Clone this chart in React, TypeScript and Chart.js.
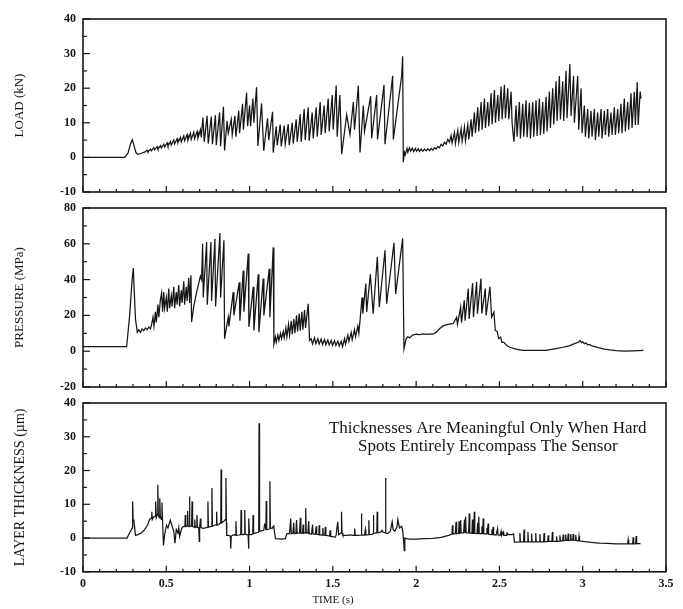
import React, { useEffect, useRef } from "react";
import { Chart, registerables } from "chart.js";

Chart.register(...registerables);

type P = [number, number];

// ---------- LOAD (kN) vs TIME (s) ----------
const loadRise: P[] = [
  [0, 0], [0.25, 0], [0.27, 1.2], [0.285, 3.8], [0.296, 5.1], [0.305, 3.6], [0.318, 1.4], [0.328, 0.9],
  [0.35, 1.2], [0.37, 1.5], [0.385, 2.1], [0.39, 1.6], [0.405, 2.4], [0.41, 1.9], [0.425, 2.8], [0.43, 2.2],
  [0.445, 3.1], [0.45, 2.4], [0.465, 3.4], [0.47, 2.7], [0.485, 3.8], [0.49, 3.0], [0.505, 4.2], [0.51, 3.3],
  [0.525, 4.6], [0.53, 3.6], [0.545, 5.0], [0.55, 3.9], [0.565, 5.4], [0.57, 4.2], [0.585, 5.8], [0.59, 4.5],
  [0.605, 6.2], [0.61, 4.8], [0.625, 6.6], [0.63, 5.0], [0.645, 7.0], [0.65, 5.2], [0.665, 7.3], [0.67, 5.4],
  [0.685, 7.5], [0.69, 5.6], [0.705, 8.0], [0.71, 5.8],
];
const loadOscA: P[] = [
  [0.72, 11.5], [0.728, 4.5], [0.745, 12], [0.752, 4], [0.77, 11.8], [0.777, 3.8], [0.795, 12.2], [0.8, 3.5],
  [0.82, 13], [0.826, 3.2], [0.843, 14.6], [0.85, 2.0], [0.865, 10.5], [0.872, 7], [0.89, 11], [0.896, 6.5],
  [0.912, 12], [0.918, 6], [0.935, 13.5], [0.94, 7], [0.958, 15.5], [0.963, 8], [0.982, 18.7], [0.988, 9],
  [1.0, 15], [1.006, 9], [1.02, 17], [1.026, 10], [1.042, 20.3], [1.05, 3.3], [1.072, 15.6], [1.085, 1.9],
  [1.108, 11.3], [1.115, 5], [1.138, 13.2], [1.142, 1.4],
];
const loadOscB: P[] = [
  [1.16, 9], [1.166, 3.5], [1.184, 9.5], [1.19, 3.2], [1.208, 9.2], [1.214, 3.8], [1.232, 9.6], [1.238, 3.5],
  [1.256, 10], [1.262, 4], [1.28, 11], [1.286, 4.5], [1.304, 12.5], [1.31, 4.5], [1.328, 14], [1.334, 5],
  [1.352, 14.5], [1.358, 4.8], [1.376, 13], [1.382, 5.5], [1.4, 14.5], [1.406, 6], [1.424, 16], [1.43, 6.5],
  [1.448, 15], [1.454, 7], [1.472, 17], [1.478, 7.5], [1.496, 18], [1.502, 8], [1.52, 20.8], [1.526, 6],
  [1.542, 18], [1.553, 0.9],
];
const loadSaw: P[] = [
  [1.583, 12.3], [1.603, 6.6], [1.623, 16], [1.63, 8], [1.653, 20.8], [1.663, 1.4], [1.683, 15], [1.69, 7.5],
  [1.727, 17.7], [1.733, 5.5], [1.763, 18], [1.768, 5.2], [1.807, 21], [1.813, 3.8], [1.859, 23.6], [1.863, 5.2],
  [1.913, 23.6], [1.919, 29.2], [1.923, -1.4],
];
const loadLow: P[] = [
  [1.93, 1.5], [1.935, 0.8], [1.945, 2.6], [1.95, 1.5], [1.96, 2.8], [1.967, 1.8], [1.977, 2.7], [1.985, 1.7],
  [1.995, 2.6], [2.003, 1.8], [2.013, 2.5], [2.02, 1.7], [2.03, 2.4], [2.04, 1.8], [2.05, 2.4], [2.06, 1.9],
  [2.07, 2.5], [2.08, 2.0], [2.09, 2.6], [2.1, 2.1], [2.11, 2.8], [2.12, 2.4], [2.13, 3.2], [2.14, 2.8],
  [2.15, 3.8], [2.16, 3.3], [2.17, 4.4], [2.18, 3.8], [2.19, 5.2], [2.2, 4.4], [2.21, 6.3], [2.216, 4.2],
  [2.23, 7.2], [2.236, 4.0], [2.25, 7.8], [2.256, 4.3], [2.27, 8.3], [2.276, 4.6], [2.29, 8.8], [2.296, 4.8],
  [2.31, 9.4], [2.316, 5.2],
];
const loadOscC: P[] = [
  [2.33, 11], [2.336, 6], [2.35, 13], [2.356, 7], [2.37, 14.5], [2.376, 7.5], [2.39, 16], [2.396, 8],
  [2.41, 17], [2.416, 8.5], [2.43, 16], [2.436, 9], [2.45, 18.5], [2.456, 9.5], [2.47, 19.5], [2.476, 10],
  [2.49, 18], [2.496, 10.5], [2.51, 20.5], [2.516, 11], [2.53, 21], [2.536, 11.3], [2.55, 20], [2.556, 11],
  [2.57, 19], [2.576, 10], [2.587, 4.5],
];
const loadOscD: P[] = [
  [2.6, 15], [2.606, 6], [2.62, 16], [2.626, 5.5], [2.64, 15.5], [2.646, 6], [2.66, 16.5], [2.666, 5.8],
  [2.68, 15.8], [2.686, 5.5], [2.7, 16], [2.706, 6], [2.72, 16.5], [2.726, 6.2], [2.74, 17], [2.746, 6.5],
  [2.76, 16], [2.766, 6.8], [2.78, 17.5], [2.786, 7.5], [2.8, 19], [2.806, 8.5], [2.82, 20], [2.826, 9.5],
  [2.84, 22], [2.846, 10.5], [2.86, 23.5], [2.866, 11], [2.88, 22], [2.886, 10.5], [2.9, 25], [2.906, 11.3],
  [2.923, 27], [2.93, 12], [2.945, 23.6], [2.95, 10], [2.97, 23.6], [2.976, 8], [2.99, 20], [2.996, 7],
];
const loadOscE: P[] = [
  [3.01, 15], [3.016, 6], [3.03, 14], [3.036, 5.5], [3.05, 13.5], [3.056, 6], [3.07, 14], [3.076, 5],
  [3.09, 13], [3.096, 6], [3.11, 14], [3.116, 5.5], [3.13, 13.5], [3.136, 6.5], [3.15, 14], [3.156, 6],
  [3.17, 13], [3.176, 6.5], [3.19, 14.5], [3.196, 6.5], [3.21, 14], [3.216, 7], [3.23, 15.5], [3.236, 7],
  [3.25, 17], [3.256, 7.5], [3.27, 16], [3.276, 8], [3.29, 18.5], [3.296, 8.5], [3.31, 19], [3.316, 9.4],
  [3.327, 21.7], [3.333, 9.4], [3.345, 19], [3.35, 17],
];

// ---------- PRESSURE (MPa) vs TIME (s) ----------
const presStart: P[] = [
  [0, 2.5], [0.262, 2.5], [0.28, 20], [0.295, 40], [0.302, 46.5], [0.307, 35], [0.315, 18], [0.326, 10.5],
  [0.335, 12], [0.345, 10.5], [0.355, 12.5], [0.365, 11.5], [0.375, 13], [0.385, 12], [0.395, 13.5], [0.405, 12.5],
  [0.412, 15], [0.42, 19], [0.426, 14], [0.435, 22], [0.44, 16], [0.45, 26], [0.455, 19], [0.465, 29],
  [0.472, 32.5], [0.478, 22],
];
const presDense: P[] = [
  [0.485, 33], [0.49, 24], [0.5, 30], [0.506, 22], [0.515, 35], [0.52, 24], [0.53, 31], [0.535, 25],
  [0.545, 36], [0.55, 24], [0.56, 33], [0.565, 26], [0.575, 37], [0.58, 25], [0.59, 34], [0.595, 27],
  [0.605, 39], [0.61, 26], [0.62, 36], [0.625, 28], [0.635, 41], [0.64, 27], [0.648, 42.4], [0.652, 16.3],
];
const presHighA: P[] = [
  [0.665, 25], [0.68, 32], [0.695, 38], [0.705, 42], [0.712, 40], [0.718, 60], [0.722, 30], [0.742, 61],
  [0.746, 26], [0.768, 61], [0.772, 28], [0.792, 62.8], [0.796, 25], [0.822, 66], [0.826, 30], [0.846, 62],
  [0.85, 7],
];
const presHighB: P[] = [
  [0.872, 19], [0.876, 14], [0.902, 33], [0.906, 20], [0.938, 38.5], [0.942, 17], [0.962, 45], [0.966, 22],
  [0.992, 54.6], [0.996, 13.5], [1.022, 36], [1.026, 11.6], [1.052, 43], [1.056, 10.6], [1.082, 40.6], [1.086, 20],
  [1.118, 46], [1.122, 19], [1.142, 58], [1.146, 4],
];
const presMid: P[] = [
  [1.155, 8], [1.16, 5], [1.17, 9], [1.176, 6], [1.186, 10], [1.192, 7], [1.202, 11], [1.208, 7.5],
  [1.218, 13], [1.224, 8], [1.234, 15], [1.24, 9], [1.25, 17], [1.256, 9.5], [1.266, 18], [1.272, 10],
  [1.282, 20], [1.288, 11], [1.298, 21], [1.304, 11.5], [1.314, 22], [1.32, 12], [1.33, 23], [1.336, 13],
  [1.352, 26.5], [1.36, 6], [1.37, 7], [1.378, 4], [1.39, 7.5], [1.398, 4.2], [1.41, 7], [1.418, 4],
  [1.43, 6.8], [1.438, 3.8], [1.45, 6.5], [1.458, 3.6], [1.47, 6.3], [1.478, 3.5], [1.49, 6], [1.498, 3.3],
  [1.51, 5.8], [1.518, 3.2], [1.53, 5.6], [1.538, 3], [1.55, 5.5], [1.558, 2.5],
];
const presRamp: P[] = [
  [1.57, 7], [1.576, 4], [1.59, 9], [1.596, 5.5], [1.61, 10.5], [1.616, 6.5], [1.63, 12], [1.636, 8],
  [1.65, 14], [1.656, 10], [1.663, 17], [1.675, 30], [1.68, 21], [1.698, 37.8], [1.703, 22], [1.725, 43],
  [1.742, 21], [1.767, 52.7], [1.779, 24.7], [1.813, 56.4], [1.823, 26.5], [1.867, 60.6], [1.877, 32], [1.919, 63],
  [1.927, 1.3],
];
const presSecond: P[] = [
  [1.94, 7], [1.95, 8], [1.96, 7.5], [1.98, 9], [2.0, 9.5], [2.02, 9.2], [2.04, 9.7], [2.06, 9.4],
  [2.08, 9.6], [2.1, 9.5], [2.12, 10.5], [2.14, 12.5], [2.16, 14], [2.175, 14.6], [2.19, 15], [2.21, 15.3],
  [2.223, 15.5], [2.243, 19], [2.248, 15], [2.267, 24.7], [2.272, 16], [2.289, 28.4], [2.294, 17], [2.313, 35],
  [2.318, 18], [2.339, 38], [2.344, 19], [2.363, 38.7], [2.368, 21], [2.389, 40.6], [2.394, 21], [2.415, 35],
  [2.42, 20], [2.443, 36], [2.453, 19], [2.467, 21.9], [2.475, 11.6], [2.487, 11], [2.495, 7], [2.507, 7.9],
  [2.515, 5], [2.527, 5], [2.543, 3.2], [2.563, 2.2],
];
const presTail: P[] = [
  [2.6, 1.2], [2.64, 0.5], [2.7, 0.4], [2.78, 0.5], [2.84, 1.5], [2.88, 2.2], [2.92, 3], [2.95, 4.2],
  [2.975, 5], [2.984, 6], [2.992, 4.8], [3.0, 5.2], [3.01, 4.2], [3.02, 4.6], [3.03, 3.6], [3.04, 3.8],
  [3.06, 2.8], [3.08, 2.4], [3.1, 1.8], [3.13, 1.2], [3.163, 0.7], [3.2, 0.3], [3.25, 0.1], [3.3, 0.2],
  [3.364, 0.4],
];

// ---------- LAYER THICKNESS (µm) vs TIME (s) ----------
const thickA: P[] = [
  [0, 0], [0.264, 0], [0.285, 2.0], [0.296, 3], [0.298, 10.8], [0.301, 5.3], [0.305, 5.5], [0.315, 0.8],
  [0.33, 1], [0.35, 1.5], [0.37, 2.5], [0.389, 4], [0.4, 5.5], [0.411, 6], [0.413, 7.8], [0.416, 5.5],
  [0.425, 6.3], [0.434, 6.5], [0.436, 10.8], [0.44, 6], [0.447, 7], [0.449, 15.8], [0.452, 7], [0.458, 6],
  [0.461, 11.8], [0.464, 6.5], [0.47, 5.5], [0.474, 10.5], [0.477, 6], [0.483, -2.2], [0.49, 1], [0.501, 3.8],
  [0.51, 3], [0.524, 5.3], [0.535, 3.5], [0.545, 2], [0.552, -1.5], [0.56, 2.5], [0.57, 1.5], [0.575, 3],
  [0.58, 0.5], [0.592, 2.8],
];
const thickB: P[] = [
  [0.6, 3.3], [0.612, 3.5], [0.614, 6.8], [0.617, 3.4], [0.625, 3.6], [0.628, 8], [0.631, 3.5], [0.637, 3.4],
  [0.639, 12.3], [0.642, 3.5], [0.652, 3.6], [0.655, 10.8], [0.658, 3.4], [0.668, 3.2], [0.671, 5.5], [0.674, 3.1],
  [0.682, 3.3], [0.684, 6.8], [0.687, 3.2], [0.695, 3.0], [0.698, -1], [0.7, 3.0], [0.705, 5.8], [0.708, 3.1],
  [0.72, 2.9], [0.735, 3.0], [0.748, 3.2], [0.75, 10.8], [0.753, 3.2], [0.765, 3.4], [0.772, 3.5], [0.774, 14.8],
  [0.777, 3.5], [0.79, 3.8], [0.8, 4], [0.802, 7.8], [0.805, 3.8], [0.815, 4], [0.827, 4.5], [0.829, 20.3],
  [0.832, 4.5], [0.845, 5], [0.856, 5.5], [0.858, 17.8], [0.861, 4.5], [0.863, 0.8],
];
const thickC: P[] = [
  [0.875, 0.8], [0.885, 0.5], [0.887, -3.2], [0.89, 0.6], [0.905, 1], [0.915, 0.8], [0.918, 5], [0.921, 0.8],
  [0.935, 0.9], [0.947, 1], [0.949, 8.3], [0.952, 1], [0.962, 1], [0.969, 1.2], [0.971, 8.3], [0.974, 1.1],
  [0.985, 1], [0.991, 0.9], [0.994, -3.2], [0.996, 5.8], [0.999, 1], [1.01, 1], [1.019, 1.2], [1.021, 6.8],
  [1.024, 1.3], [1.04, 1.5], [1.055, 1.8], [1.057, 34], [1.06, 2], [1.075, 2.2], [1.085, 2.3], [1.09, 4],
  [1.095, 3.5], [1.098, 2.3], [1.1, 11], [1.103, 2.5], [1.115, 2.6], [1.12, 2.8], [1.122, 16.8], [1.125, 3],
  [1.135, 2.8], [1.143, 3.5], [1.145, 3.8], [1.15, 1.5], [1.156, -0.2],
];
const thickD: P[] = [
  [1.19, -0.3], [1.215, -0.2], [1.224, 1.3], [1.24, 1.3], [1.247, 5.8], [1.25, 1.3], [1.26, 1.4], [1.265, 4.5],
  [1.268, 1.3], [1.278, 1.4], [1.282, 5.3], [1.285, 1.4], [1.3, 1.5], [1.305, 6], [1.308, 1.4], [1.318, 1.5],
  [1.322, 4], [1.325, 1.4], [1.335, 1.6], [1.337, 8.8], [1.34, 1.5], [1.35, 1.4], [1.355, 5], [1.358, 1.3],
  [1.372, 1.2], [1.378, 4], [1.381, 1.2], [1.395, 1.1], [1.4, 3.5], [1.403, 1.1], [1.416, 1.0], [1.418, 3.8],
  [1.421, 1.0], [1.435, 0.9], [1.44, 3], [1.443, 0.9], [1.452, 0.8], [1.455, 3.3], [1.458, 0.8], [1.48, 0.6],
  [1.484, 2.3], [1.487, 0.5], [1.515, 0.3], [1.52, 1], [1.529, 4.8], [1.535, 1], [1.55, 1.5], [1.552, 7.8],
  [1.555, 1.5], [1.56, 0.8], [1.585, 0.8], [1.6, 0.9],
];
const thickE: P[] = [
  [1.628, 0.8], [1.631, 2.8], [1.634, 0.8], [1.65, 0.8], [1.669, 0.9], [1.671, 7.3], [1.674, 0.9], [1.69, 0.9],
  [1.695, 2.5], [1.698, 0.9], [1.714, 1], [1.716, 5.3], [1.719, 1], [1.735, 1.1], [1.741, 1.3], [1.743, 6.8],
  [1.746, 1.3], [1.755, 1.5], [1.764, 1.6], [1.766, 7.8], [1.769, 1.6], [1.78, 1.7], [1.789, 1.8], [1.795, 2.3],
  [1.8, 1.8], [1.814, 1.5], [1.816, 17.8], [1.819, 1.5], [1.83, 1.3], [1.845, 2], [1.856, 4.8], [1.862, 2.5],
  [1.872, 2], [1.885, 3.3], [1.89, 5.5], [1.9, 3], [1.913, 3.5], [1.92, 2], [1.925, -1], [1.929, -3.7],
  [1.932, 0], [1.94, -0.2],
];
const thickF: P[] = [
  [1.96, -0.3], [2.0, -0.3], [2.05, -0.2], [2.1, -0.1], [2.15, 0.2], [2.195, 0.8], [2.215, 1.2], [2.218, 3.8],
  [2.221, 1.2], [2.235, 1.3], [2.24, 4.8], [2.243, 1.3], [2.255, 1.4], [2.258, 5], [2.261, 1.4], [2.264, 1.5],
  [2.267, 5.3], [2.27, 1.5], [2.285, 1.5], [2.29, 5.5], [2.293, 1.5], [2.297, 6.3], [2.3, 1.5], [2.315, 1.5],
  [2.319, 7.3], [2.322, 1.5], [2.335, 1.4], [2.338, 5.5], [2.341, 1.4], [2.346, 1.4], [2.349, 7.8], [2.352, 1.4],
  [2.365, 1.3], [2.37, 4.5], [2.373, 1.3], [2.376, 6.3], [2.379, 1.3], [2.392, 1.3], [2.395, 3.5], [2.398, 1.2],
  [2.403, 5.8], [2.406, 1.2], [2.42, 1.2], [2.425, 3], [2.428, 1.2], [2.432, 4.3], [2.435, 1.1], [2.45, 1],
  [2.455, 2.5], [2.458, 1], [2.462, 3.3], [2.465, 1], [2.48, 0.9], [2.489, 2.8], [2.492, 0.9], [2.505, 0.9],
  [2.51, 2], [2.513, 0.8], [2.523, 1.8], [2.526, 0.8], [2.54, 0.8], [2.545, 1.5], [2.557, 1], [2.575, 1],
  [2.585, 1.2], [2.59, -1.2],
];
const thickG: P[] = [
  [2.6, -1.2], [2.62, -1.1], [2.623, 1.5], [2.626, -1.1], [2.645, -1.1], [2.648, 2.5], [2.651, -1.1], [2.668, -1.1],
  [2.671, 1.8], [2.674, -1.1], [2.69, -1.1], [2.693, 1.3], [2.696, -1.1], [2.715, -1.1], [2.718, 1.5], [2.721, -1.1],
  [2.74, -1.1], [2.743, 1.2], [2.746, -1.1], [2.765, -1.1], [2.768, 1.5], [2.771, -1.1], [2.79, -1], [2.793, 0.8],
  [2.796, -1], [2.815, -1], [2.818, 1.8], [2.821, -1], [2.84, -1], [2.843, 0.5], [2.846, -1], [2.86, -0.9],
  [2.863, 0.8], [2.866, -0.9], [2.88, -0.8], [2.883, 1], [2.886, -0.8], [2.895, -0.7], [2.898, 1], [2.901, -0.7],
  [2.91, -0.7], [2.913, 1.3], [2.916, -0.7], [2.925, -0.6], [2.928, 1.2], [2.931, -0.6], [2.94, -0.6], [2.943, 1.2],
  [2.946, -0.6], [2.955, -0.7], [2.958, 0.9], [2.961, -0.7], [2.975, -0.8], [2.978, 0.5], [2.981, -0.8], [3.0, -1],
  [3.05, -1.3], [3.1, -1.5], [3.15, -1.6], [3.2, -1.7], [3.25, -1.7], [3.27, -1.7], [3.273, -0.5], [3.276, -1.7],
  [3.3, -1.7], [3.303, 0.2], [3.306, -1.7], [3.318, -1.7], [3.321, 0.6], [3.324, -1.7], [3.335, -1.6], [3.347, -1.7],
];

// ---------- axes ----------
const timeRange = [0, 3.5];
const timeTickStep = 0.5;
const loadRange = [-10, 40];
const presRange = [-20, 80];
const thickRange = [-10, 40];
const noteLines = ["Thicknesses Are Meaningful Only When Hard", "Spots Entirely Encompass The Sensor"];

const loadSeries = [...loadRise, ...loadOscA, ...loadOscB, ...loadSaw, ...loadLow, ...loadOscC, ...loadOscD, ...loadOscE];
const presSeries = [...presStart, ...presDense, ...presHighA, ...presHighB, ...presMid, ...presRamp, ...presSecond, ...presTail];
const thickSeries = [...thickA, ...thickB, ...thickC, ...thickD, ...thickE, ...thickF, ...thickG];

const SERIF = '"Liberation Serif", "Times New Roman", "DejaVu Serif", serif';
const INK = "#161616";

const framePlugin = {
  id: "frame",
  afterDraw(chart: any, _args: any, opts: any) {
    const { ctx, chartArea: a, scales } = chart;
    const xs = scales.x;
    const ys = scales.y;
    ctx.save();
    ctx.strokeStyle = INK;
    ctx.lineWidth = 1.6;
    ctx.strokeRect(a.left, a.top, a.right - a.left, a.bottom - a.top);
    ctx.lineWidth = 1.2;
    const nY = Math.round((ys.max - ys.min) / opts.yMinor);
    for (let i = 0; i <= nY; i++) {
      const v = ys.min + i * opts.yMinor;
      const r = v / opts.yMajor;
      const major = Math.abs(r - Math.round(r)) < 1e-6;
      const py = ys.getPixelForValue(v);
      ctx.beginPath();
      ctx.moveTo(a.left, py);
      ctx.lineTo(a.left + (major ? 7 : 4), py);
      ctx.stroke();
    }
    const nX = Math.round((xs.max - xs.min) / 0.1);
    for (let i = 0; i <= nX; i++) {
      const v = xs.min + i * 0.1;
      const major = i % 5 === 0;
      const px = xs.getPixelForValue(v);
      ctx.beginPath();
      ctx.moveTo(px, a.bottom);
      ctx.lineTo(px, a.bottom - (major ? 6 : 3));
      ctx.stroke();
    }
    if (opts.note) {
      ctx.fillStyle = INK;
      ctx.font = `17px ${SERIF}`;
      ctx.textAlign = "center";
      ctx.textBaseline = "middle";
      const cx = xs.getPixelForValue(opts.note.x);
      opts.note.lines.forEach((s: string, i: number) => {
        ctx.fillText(s, cx, ys.getPixelForValue(opts.note.y[i]));
      });
    }
    ctx.restore();
  },
};

type PanelDef = {
  points: P[];
  range: number[];
  step: number;
  minor: number;
  title: string;
  titleSize: number;
  height: number;
  padTop: number;
  padBottom: number;
  showTime: boolean;
  note?: any;
};

function Panel({ def, top }: { def: PanelDef; top: number }) {
  const ref = useRef<HTMLCanvasElement | null>(null);
  useEffect(() => {
    if (!ref.current) return;
    const tickFont = { family: SERIF, size: 12, weight: "bold" as const };
    const xScale: any = {
      type: "linear",
      min: timeRange[0],
      max: timeRange[1],
      display: def.showTime,
      grid: { display: false, drawTicks: false },
      border: { display: false },
      ticks: {
        stepSize: timeTickStep,
        color: INK,
        font: tickFont,
        padding: 5,
        maxRotation: 0,
        callback: (v: any) => String(Math.round(Number(v) * 10) / 10),
      },
    };
    if (def.showTime) {
      xScale.afterFit = (s: any) => {
        s.height = 22;
      };
    }
    const chart = new Chart(ref.current, {
      type: "line",
      data: {
        datasets: [
          {
            data: def.points.map(([x, y]) => ({ x, y })),
            borderColor: INK,
            borderWidth: 1.25,
            pointRadius: 0,
            tension: 0,
            fill: false,
          },
        ],
      },
      options: {
        animation: false,
        responsive: false,
        events: [],
        layout: { padding: { left: 0, right: 17, top: def.padTop, bottom: def.padBottom } },
        plugins: {
          legend: { display: false },
          tooltip: { enabled: false },
          title: def.showTime
            ? {
                display: true,
                position: "bottom",
                text: "TIME (s)",
                color: INK,
                font: { family: SERIF, size: 11, weight: "normal" },
                padding: { top: 0, bottom: 2 },
              }
            : { display: false },
          frame: { yMinor: def.minor, yMajor: def.step, note: def.note },
        } as any,
        scales: {
          x: xScale,
          y: {
            type: "linear",
            min: def.range[0],
            max: def.range[1],
            grid: { display: false, drawTicks: true, tickLength: 7 },
            border: { display: false },
            ticks: { stepSize: def.step, color: INK, font: tickFont, padding: 0 },
            title: {
              display: true,
              text: def.title,
              color: INK,
              font: { family: SERIF, size: def.titleSize, weight: "normal" },
              padding: { top: 20 - def.titleSize * 0.6, bottom: 0 },
            },
            afterFit: (s: any) => {
              s.width = 83;
            },
          },
        },
      },
      plugins: [framePlugin],
    } as any);
    return () => chart.destroy();
  }, [def]);
  return (
    <canvas
      ref={ref}
      width={683}
      height={def.height}
      style={{ position: "absolute", left: 0, top, width: 683, height: def.height, display: "block" }}
    />
  );
}

const panels: { def: PanelDef; top: number }[] = [
  {
    top: 0,
    def: {
      points: loadSeries, range: loadRange, step: 10, minor: 5, title: "LOAD (kN)", titleSize: 13,
      height: 200, padTop: 19, padBottom: 8, showTime: false,
    },
  },
  {
    top: 200,
    def: {
      points: presSeries, range: presRange, step: 20, minor: 10, title: "PRESSURE (MPa)", titleSize: 13,
      height: 195, padTop: 8, padBottom: 8, showTime: false,
    },
  },
  {
    top: 395,
    def: {
      points: thickSeries, range: thickRange, step: 10, minor: 5, title: "LAYER THICKNESS (µm)", titleSize: 14,
      height: 214, padTop: 8, padBottom: 0, showTime: true,
      note: { lines: noteLines, x: 2.43, y: [32.5, 27.1] },
    },
  },
];

export default function App() {
  return (
    <div style={{ position: "fixed", left: 0, top: 0, width: 683, height: 609, background: "#fff" }}>
      {panels.map((p, i) => (
        <Panel key={i} def={p.def} top={p.top} />
      ))}
    </div>
  );
}
